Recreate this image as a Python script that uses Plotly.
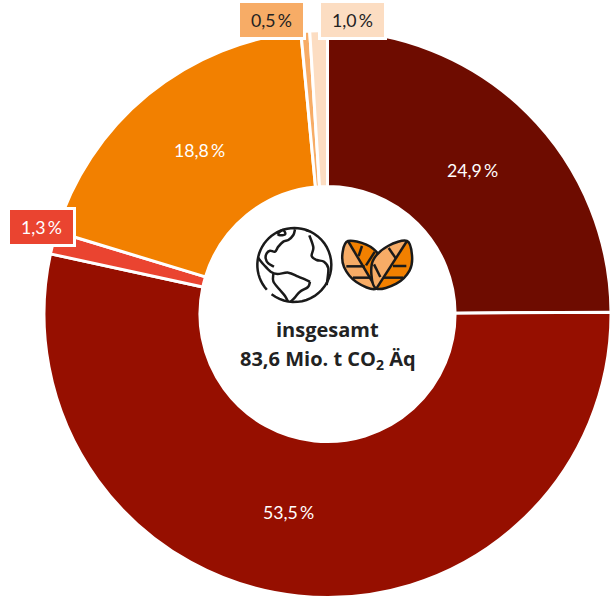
import math
import plotly.graph_objects as go

# ---- data ----
segments = ["A", "B", "C", "D", "E", "F"]
shares = [24.9, 53.5, 1.3, 18.8, 0.5, 1.0]
colors = ["#6E0C00", "#960F00", "#EA4430", "#F28000", "#F7AC66", "#FCDDC2"]
label_colors = ["white", "white", "white", "white", "#222222", "#222222"]
label_x = [472, 288, 41, 199, 271.5, 352]
label_y = [171, 512, 227, 151, 19.5, 19.5]
boxed = [False, False, True, False, True, True]
title_lines = ["insgesamt", "83,6 Mio. t CO<sub>2</sub> Äq"]

FONT = "Lato"
TITLE_FONT = "Open Sans"
W, H = 611, 598


def fmt(v):
    return f"{v:.1f}".replace(".", ",") + "\u2009%"


def px(x):
    return x / W


def py(y):
    return 1 - y / H


fig = go.Figure(go.Pie(
    labels=segments, values=shares, sort=False, direction="clockwise", rotation=0,
    hole=0.45, textinfo="none", hoverinfo="label+percent",
    marker=dict(colors=colors, line=dict(color="white", width=3)),
    domain=dict(x=[44 / W, 611 / W], y=[0.5 / H, 567.5 / H]),
    showlegend=False,
))

annotations = []
for v, c, x, y, b, bg in zip(shares, label_colors, label_x, label_y, boxed, colors):
    a = dict(x=px(x), y=py(y), xref="paper", yref="paper", text=fmt(v), showarrow=False,
             font=dict(family=FONT, size=17.7, color=c), xanchor="center", yanchor="middle")
    if b:
        a.update(bgcolor=bg, bordercolor="white", borderwidth=3, borderpad=0, width=63, height=34)
    annotations.append(a)
for t, y in zip(title_lines, (329.5, 359)):
    annotations.append(dict(x=px(327.5), y=py(y), xref="paper", yref="paper", text=t, showarrow=False,
                            xanchor="center", yanchor="middle",
                            font=dict(family=TITLE_FONT, size=20, color="#222222", weight="bold")))


# ---- icons, traced in 3x crop coordinates ----
def spline(pts, ox, oy, close=False):
    p = [(ox + a / 3, oy + b / 3) for a, b in pts]
    n = len(p)
    get = (lambda i: p[i % n]) if close else (lambda i: p[max(0, min(n - 1, i))])
    s = f"M{px(p[0][0]):.5f},{py(p[0][1]):.5f}"
    for i in range(n if close else n - 1):
        p0, p1, p2, p3 = get(i - 1), get(i), get(i + 1), get(i + 2)
        c1 = (p1[0] + (p2[0] - p0[0]) / 6, p1[1] + (p2[1] - p0[1]) / 6)
        c2 = (p2[0] - (p3[0] - p1[0]) / 6, p2[1] - (p3[1] - p1[1]) / 6)
        s += (f" C{px(c1[0]):.5f},{py(c1[1]):.5f} {px(c2[0]):.5f},{py(c2[1]):.5f}"
              f" {px(p2[0]):.5f},{py(p2[1]):.5f}")
    return s + (" Z" if close else "")


def poly(pts, ox, oy, close=False):
    s = "M" + " L".join(f"{px(ox + a / 3):.5f},{py(oy + b / 3):.5f}" for a, b in pts)
    return s + (" Z" if close else "")


def rim(a0, a1, cx=223, cy=165, r=111, n=28):
    return [(cx + r * math.cos(math.radians(a0 + (a1 - a0) * i / n)),
             cy + r * math.sin(math.radians(a0 + (a1 - a0) * i / n))) for i in range(n + 1)]


shapes = []
ink = "#1A1A1A"


def stroke(path, w=2.5):
    shapes.append(dict(type="path", path=path, xref="paper", yref="paper", layer="above",
                       line=dict(color=ink, width=w), fillcolor="rgba(0,0,0,0)"))


def fill(path, c, w=0):
    shapes.append(dict(type="path", path=path, xref="paper", yref="paper", layer="above",
                       line=dict(color=ink, width=w), fillcolor=c))


G = (220, 210)
# globe rim: two arcs with gaps at the upper right and lower left
stroke(poly(rim(-72, 128), *G))
stroke(poly(rim(138, 292), *G))
# north and central america, south america
stroke(spline([(114, 143), (132, 165), (152, 185), (172, 192), (205, 188), (235, 200), (270, 215)], *G))
stroke(spline([(270, 215), (264, 231), (240, 245), (225, 262), (212, 275)], *G))
stroke(spline([(160, 192), (160, 214), (178, 238), (195, 258), (204, 275)], *G))
stroke(spline([(162, 170), (145, 160), (137, 145), (140, 130), (150, 122), (165, 125), (175, 110), (190, 95), (205, 90), (220, 75), (225, 58)], *G))
stroke(spline([(172, 72), (188, 60), (196, 72), (180, 76), (172, 72)], *G))
# africa / right landmass
stroke(spline([(268, 76), (280, 112), (275, 138), (290, 150), (312, 155), (325, 175), (320, 225)], *G))

L = (338, 232)
left_leaf = [(30, 27), (85, 38), (122, 68), (135, 110), (115, 170), (55, 150), (18, 105), (14, 60)]
right_leaf = [(207, 27), (222, 70), (215, 115), (175, 155), (115, 170), (100, 125), (108, 80), (150, 42)]
fill(spline(left_leaf, *L, close=True), "#F7AC66")
fill(spline([(30, 27), (85, 38), (122, 68), (135, 110), (115, 170)], *L) + " Z", "#F28000")
stroke(spline(left_leaf, *L, close=True))
stroke(poly([(30, 27), (115, 170)], *L))
for seg in ([(72, 42), (62, 72)], [(110, 60), (84, 100)], [(25, 103), (80, 103)], [(45, 137), (102, 137)]):
    stroke(poly(seg, *L))
fill(spline(right_leaf, *L, close=True), "#F7AC66")
fill(spline([(207, 27), (222, 70), (215, 115), (175, 155), (115, 170)], *L) + " Z", "#F28000")
stroke(spline(right_leaf, *L, close=True))
stroke(poly([(207, 27), (115, 170)], *L))
for seg in ([(152, 48), (174, 80)], [(108, 97), (127, 135)], [(165, 102), (205, 102)], [(135, 137), (195, 137)]):
    stroke(poly(seg, *L))

fig.update_layout(
    width=W, height=H, autosize=False,
    margin=dict(l=0, r=0, t=0, b=0),
    paper_bgcolor="white",
    annotations=annotations, shapes=shapes,
)
fig.write_html("out.html", config={"displayModeBar": False},
               post_script="document.body.style.margin='0';document.documentElement.style.overflow='hidden';")
